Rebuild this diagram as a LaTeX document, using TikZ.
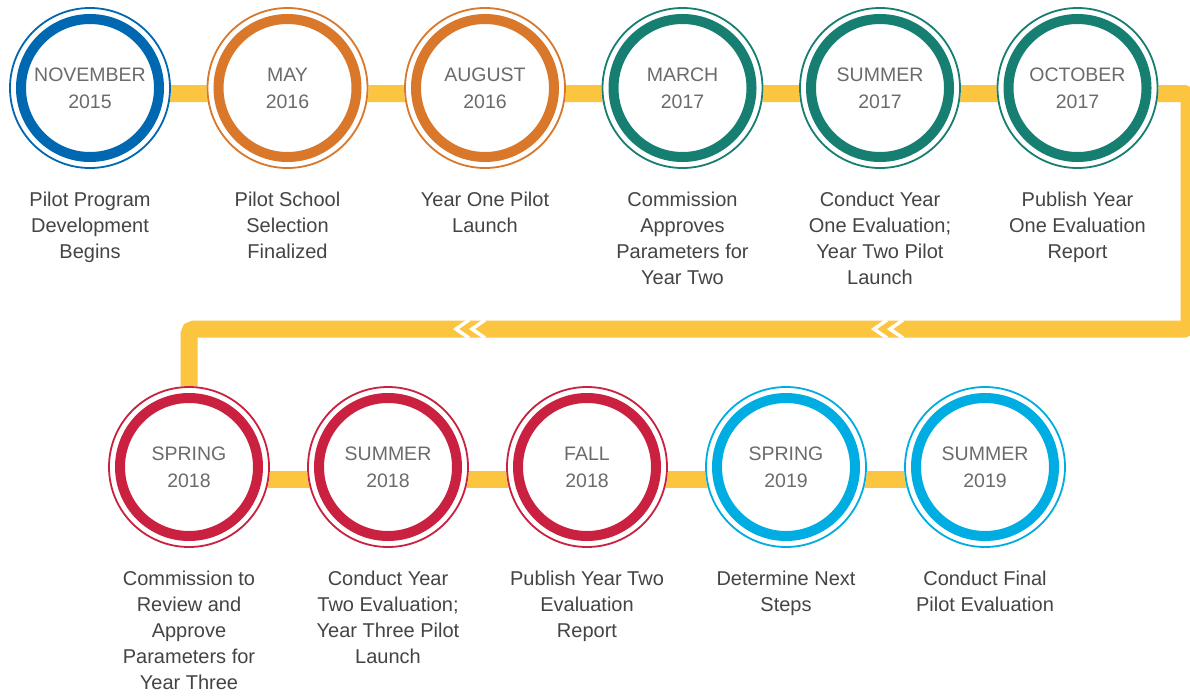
\documentclass[tikz,border=0pt]{standalone}
\usepackage{fontspec}
\setmainfont{Liberation Sans}
\usetikzlibrary{calc}
\pgfdeclarelayer{paper}
\pgfdeclarelayer{bandlayer}
\pgfsetlayers{paper,bandlayer,main}
\definecolor{cblue}{HTML}{0067B1}
\definecolor{corange}{HTML}{D9772A}
\definecolor{cteal}{HTML}{177F72}
\definecolor{cred}{HTML}{C9213F}
\definecolor{ccyan}{HTML}{00ADE2}
\definecolor{cyellow}{HTML}{FCC53F}
\definecolor{dategray}{HTML}{6B6B6B}
\definecolor{descgray}{HTML}{444444}
\begin{document}
\begin{tikzpicture}[x=1pt,y=-1pt,
  band/.style={draw=cyellow, line width=17pt, line join=miter},
  ring/.style={circle, draw=#1, line width=10pt, minimum size=138pt, inner sep=0pt,
    align=center, text=dategray, font=\fontsize{19.5}{27}\selectfont},
  thinring/.style={draw=#1, line width=1.8pt},
  desc/.style={anchor=north, align=center, inner sep=0pt, text=descgray,
    font=\fontsize{20}{26}\selectfont},
  chev/.style={draw=white, line width=3.5pt, line join=miter}]
\begin{pgfonlayer}{paper}
  \fill[white] (0,0) rectangle (1190,696);
\end{pgfonlayer}
\useasboundingbox (0,0) rectangle (1190,696);
\foreach \i/\x/\y/\c/\lab/\dsc in {
  1/90/88/cblue/{NOVEMBER\\2015}/{Pilot Program\\Development\\Begins},
  2/287.5/88/corange/{MAY\\2016}/{Pilot School\\Selection\\Finalized},
  3/485/88/corange/{AUGUST\\2016}/{Year One Pilot\\Launch},
  4/682.5/88/cteal/{MARCH\\2017}/{Commission\\Approves\\Parameters for\\Year Two},
  5/880/88/cteal/{SUMMER\\2017}/{Conduct Year\\One Evaluation;\\Year Two Pilot\\Launch},
  6/1077.5/88/cteal/{OCTOBER\\2017}/{Publish Year\\One Evaluation\\Report},
  7/189/467/cred/{SPRING\\2018}/{Commission to\\Review and\\Approve\\Parameters for\\Year Three},
  8/388/467/cred/{SUMMER\\2018}/{Conduct Year\\Two Evaluation;\\Year Three Pilot\\Launch},
  9/587/467/cred/{FALL\\2018}/{Publish Year Two\\Evaluation\\Report},
  10/786/467/ccyan/{SPRING\\2019}/{Determine Next\\Steps},
  11/985/467/ccyan/{SUMMER\\2019}/{Conduct Final\\Pilot Evaluation}} {
  \fill[white] (\x,\y) circle (81pt);
  \draw[thinring=\c] (\x,\y) circle (80pt);
  \node[ring=\c] (m\i) at (\x,\y) {\lab};
  \node[desc] (d\i) at ($(m\i)+(0,104)$) {\dsc};
}
\coordinate (r1) at (1189,93.5);
\coordinate (r2) at (1189,329);
\coordinate (l1) at (m7 |- r2);
\begin{pgfonlayer}{bandlayer}
  \draw[band, rounded corners=5pt] ($(m1)+(0,5.5)$) -- (r1) -- (r2) -- (l1) -- (m7);
  \draw[band] ($(m7)+(0,12)$) -- ($(m11)+(0,12)$);
  \foreach \tx in {874,890,456,472} {
    \draw[chev] (\tx+13,320) -- (\tx,329) -- (\tx+13,338);
  }
\end{pgfonlayer}
\end{tikzpicture}
\end{document}
